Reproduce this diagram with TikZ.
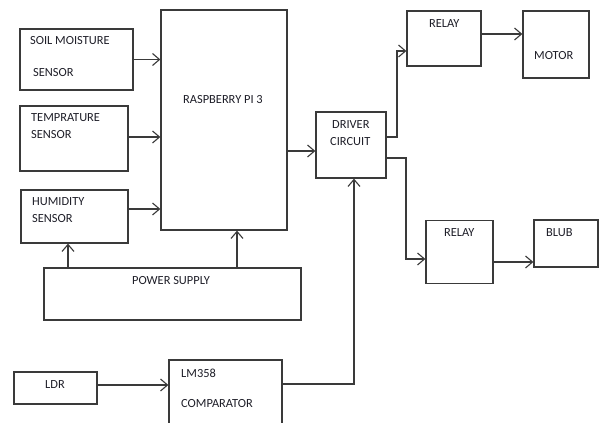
\documentclass[tikz,border=0pt]{standalone}
\usepackage{fontspec}
\setmainfont{Carlito}
\usetikzlibrary{arrows.meta}
\definecolor{ln}{HTML}{3A3A3A}
\definecolor{tx}{HTML}{1E1E28}
\tikzset{
  box/.style={draw=ln, line width=1.3pt, rectangle, inner sep=0pt},
  lbl/.style={anchor=west, inner sep=0pt, text=tx, font=\fontsize{12.4}{14}\selectfont},
  arr/.style={draw=ln, line width=1.1pt, -{Straight Barb[length=7pt,width=12pt,line width=1.1pt]}},
  wire/.style={draw=ln, line width=1.1pt}
}
\begin{document}
\begin{tikzpicture}[x=1pt,y=-1pt]
\clip (0,0) rectangle (603,423);
\fill[white] (0,0) rectangle (603,423);
% boxes
\node[box, minimum width=113pt, minimum height=61pt] (soil) at (76.5,59.5) {};
\node[box, minimum width=108pt, minimum height=65pt] (temp) at (74,138.5) {};
\node[box, minimum width=107pt, minimum height=53pt] (hum) at (74.5,216.5) {};
\node[box, minimum width=126pt, minimum height=220pt] (rpi) at (224,120) {};
\node[box, minimum width=257pt, minimum height=52pt] (pwr) at (172.5,294) {};
\node[box, minimum width=83pt, minimum height=32pt] (ldr) at (55.5,388) {};
\node[box, minimum width=113pt, minimum height=80pt] (cmp) at (225.5,400) {};
\node[box, minimum width=70pt, minimum height=66pt] (drv) at (351,145) {};
\node[box, minimum width=74pt, minimum height=55pt] (rl1) at (444,38.5) {};
\node[box, minimum width=66pt, minimum height=67pt] (mot) at (556,44.5) {};
\node[box, minimum width=67pt, minimum height=63pt] (rl2) at (459.5,252) {};
\node[box, minimum width=64pt, minimum height=47pt] (blb) at (566,243.5) {};
% labels
\node[lbl] (t1) at (30,41) {SOIL MOISTURE};
\node[lbl] (t2) at (33,73) {SENSOR};
\node[lbl] (t3) at (31,118) {TEMPRATURE};
\node[lbl] (t4) at (31,135) {SENSOR};
\node[lbl] (t5) at (32,202) {HUMIDITY};
\node[lbl] (t6) at (32,219) {SENSOR};
\node[lbl] (t7) at (183,100) {RASPBERRY PI 3};
\node[lbl] (t8) at (132,281) {POWER SUPPLY};
\node[lbl] (t9) at (45,385) {LDR};
\node[lbl] (t10) at (181,373) {LM358};
\node[lbl] (t11) at (181,404) {COMPARATOR};
\node[lbl] (t12) at (332,125) {DRIVER};
\node[lbl] (t13) at (330,142) {CIRCUIT};
\node[lbl] (t14) at (429,24) {RELAY};
\node[lbl] (t15) at (534,56) {MOTOR};
\node[lbl] (t16) at (444,233) {RELAY};
\node[lbl] (t17) at (546,233) {BLUB};
% connectors
\draw[arr] (soil.east) -- (soil.east -| rpi.west);
\draw[arr] ([yshift=1.5pt]temp.east) -- ([yshift=1.5pt]temp.east -| rpi.west);
\draw[arr] ([yshift=7.5pt]hum.east) -- ([yshift=7.5pt]hum.east -| rpi.west);
\draw[arr] ([xshift=-6.5pt]pwr.north -| hum.south) -- ([xshift=-6.5pt]hum.south);
\draw[arr] ([xshift=13pt]pwr.north -| rpi.south) -- ([xshift=13pt]rpi.south);
\draw[arr] ([yshift=-6pt]rpi.east |- drv.west) -- ([yshift=-6pt]drv.west);
\draw[arr] ([yshift=3pt]ldr.east) -- ([yshift=3pt]ldr.east -| cmp.west);
\coordinate (c1) at (354,384);
\draw[arr] (cmp.east |- c1) -- (c1) -- (c1 |- drv.south);
\coordinate (c2) at (397,137);
\draw[arr] (drv.east |- c2) -- (c2) -- (c2 |- 0,51) -- (rl1.west |- 0,51);
\coordinate (c3) at (406,158);
\draw[arr] (drv.east |- c3) -- (c3) -- (c3 |- 0,259) -- (rl2.west |- 0,259);
\draw[arr] ([yshift=4.5pt]rl1.east) -- ([yshift=4.5pt]rl1.east -| mot.west);
\draw[arr] ([yshift=-10pt]rl2.east) -- ([yshift=-10pt]rl2.east -| blb.west);
\end{tikzpicture}
\end{document}
